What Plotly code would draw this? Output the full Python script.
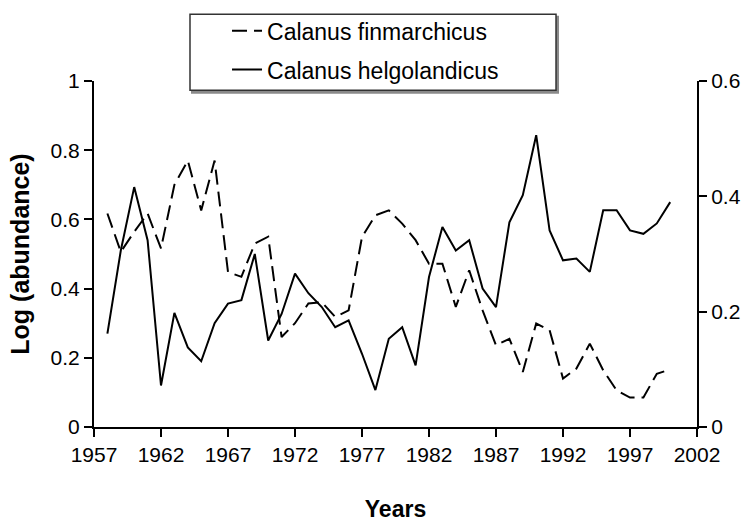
import plotly.graph_objects as go

years = list(range(1958, 2001))

finmarchicus = [0.617, 0.506, 0.564, 0.617, 0.516, 0.70, 0.77, 0.626, 0.77, 0.448,
                0.434, 0.53, 0.55, 0.26, 0.30, 0.357, 0.361, 0.318, 0.337, 0.549,
                0.612, 0.626, 0.588, 0.54, 0.472, 0.472, 0.347, 0.453, 0.337, 0.236,
                0.255, 0.159, 0.299, 0.28, 0.14, 0.169, 0.241, 0.164, 0.106, 0.085,
                0.085, 0.154, 0.166]

helgolandicus = [0.162, 0.306, 0.416, 0.324, 0.072, 0.198, 0.138, 0.114, 0.18, 0.214,
                 0.22, 0.30, 0.15, 0.196, 0.266, 0.232, 0.208, 0.173, 0.185, 0.127,
                 0.064, 0.153, 0.173, 0.107, 0.26, 0.347, 0.306, 0.324, 0.24, 0.208,
                 0.355, 0.402, 0.506, 0.341, 0.289, 0.292, 0.269, 0.376, 0.376, 0.341,
                 0.335, 0.353, 0.39]

x_ticks = [1957, 1962, 1967, 1972, 1977, 1982, 1987, 1992, 1997, 2002]
y_ticks = [0, 0.2, 0.4, 0.6, 0.8, 1]
y2_ticks = [0, 0.2, 0.4, 0.6]

SANS = "Liberation Sans, Arial, sans-serif"

fig = go.Figure()
fig.add_trace(go.Scatter(
    x=years, y=finmarchicus, mode="lines", name="Calanus finmarchicus",
    line=dict(color="black", width=2, dash="15px,7px"), legendgroup="a",
))
fig.add_trace(go.Scatter(
    x=years, y=helgolandicus, mode="lines", name="Calanus helgolandicus",
    line=dict(color="black", width=2), yaxis="y2", legendgroup="b",
))

tickfont = dict(family=SANS, size=21, color="black")

fig.update_layout(
    width=746, height=522,
    margin=dict(l=94, r=49, t=81, b=95, autoexpand=False),
    paper_bgcolor="white", plot_bgcolor="white",
    showlegend=True,
    legend=dict(
        x=0.2206, y=1.2073, xanchor="left", yanchor="top",
        bgcolor="rgba(0,0,0,0)", borderwidth=0,
        font=dict(family=SANS, size=23, color="black"),
        tracegroupgap=6,
    ),
    xaxis=dict(
        range=[1957, 2002], tickmode="array", tickvals=x_ticks,
        ticks="outside", ticklen=8, tickwidth=2, tickcolor="black",
        showline=True, linecolor="black", linewidth=2,
        showgrid=False, zeroline=False, tickfont=tickfont,
        title=dict(text="<b>Years</b>", font=dict(family=SANS, size=23, color="black"), standoff=41),
    ),
    yaxis=dict(
        range=[0, 1], tickmode="array", tickvals=y_ticks,
        ticks="outside", ticklen=8, tickwidth=2, tickcolor="black",
        showline=True, linecolor="black", linewidth=2,
        showgrid=False, zeroline=False, tickfont=tickfont,
        title=dict(text="<b>Log (abundance)</b>", font=dict(family=SANS, size=25, color="black"), standoff=14),
    ),
    yaxis2=dict(
        range=[0, 0.6], tickmode="array", tickvals=y2_ticks,
        overlaying="y", side="right",
        ticks="outside", ticklen=8, tickwidth=2, tickcolor="black",
        showline=True, linecolor="black", linewidth=2,
        showgrid=False, zeroline=False, tickfont=tickfont,
    ),
    shapes=[
        dict(type="rect", xref="paper", yref="paper",
             x0=0.1625, x1=0.7695, y0=0.9659, y1=1.1855,
             line=dict(color="#8a8a8a", width=2), fillcolor="#8a8a8a", layer="below"),
        dict(type="rect", xref="paper", yref="paper",
             x0=0.1592, x1=0.7662, y0=0.9731, y1=1.1928,
             line=dict(color="#333333", width=1.5), fillcolor="white", layer="below"),
    ],
)

fig.write_html(
    "out.html",
    config={"displayModeBar": False},
    post_script="document.body.style.margin='0';document.body.style.overflow='hidden';",
)
